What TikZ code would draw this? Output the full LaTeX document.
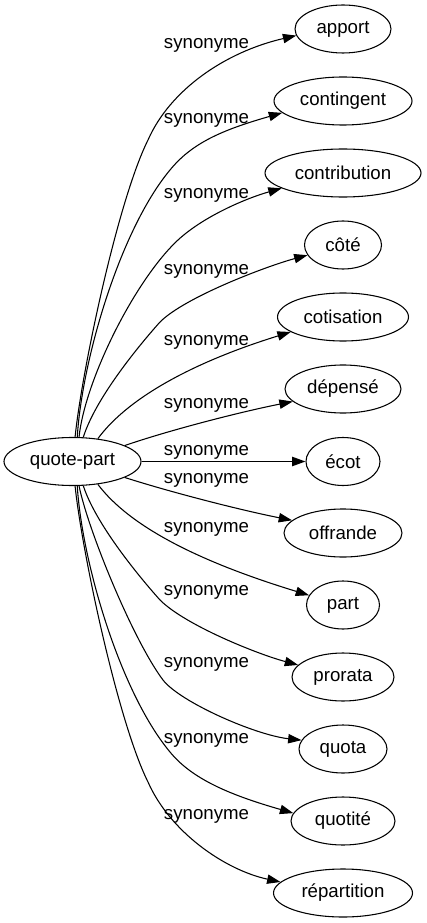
\documentclass[tikz,border=0pt]{standalone}
\usepackage{fontspec}
\setmainfont{Liberation Sans}
\usetikzlibrary{arrows.meta,shapes.geometric}
\begin{document}
\begin{tikzpicture}[x=0.75pt,y=-0.75pt,
  word/.style={ellipse,draw,line width=0.8pt,inner sep=0pt,minimum height=36pt,font=\fontsize{14}{16}\selectfont},
  lab/.style={font=\fontsize{14}{16}\selectfont,inner sep=0pt},
  syn/.style={draw,line width=0.8pt,-{Triangle[length=10pt,width=7pt]}}]
\useasboundingbox (0,0) rectangle (426,923);
\node[word,minimum width=102.75pt] (q) at (72.5,461.5) {quote-part};
\node[word,minimum width=72pt] (apport) at (343,29) {apport};
\node[word,minimum width=103.5pt] (contingent) at (343,101) {contingent};
\node[word,minimum width=117pt] (contribution) at (343,173) {contribution};
\node[word,minimum width=57.75pt] (cote) at (343,245) {côté};
\node[word,minimum width=98.25pt] (cotisation) at (343,317) {cotisation};
\node[word,minimum width=87pt] (depense) at (343,389) {dépensé};
\node[word,minimum width=55.5pt] (ecot) at (343,461.5) {écot};
\node[word,minimum width=88.5pt] (offrande) at (343,533) {offrande};
\node[word,minimum width=54.75pt] (part) at (343,605) {part};
\node[word,minimum width=76.5pt] (prorata) at (343,677) {prorata};
\node[word,minimum width=66pt] (quota) at (343,749) {quota};
\node[word,minimum width=78pt] (quotite) at (343,821) {quotité};
\node[word,minimum width=104.25pt] (repartition) at (343,893) {répartition};

\draw[syn] (q.84) .. controls (82,370) and (118,200) .. (148,140) .. controls (170,90) and (225,52) .. (apport.188);
\draw[syn] (q.79) .. controls (82,360) and (120,230) .. (170,170) .. controls (192,143) and (222,130) .. (contingent.191);
\draw[syn] (q.75) .. controls (85,380) and (135,280) .. (178,240) .. controls (204,216) and (247,198) .. (contribution.194);
\draw[syn] (q.66) .. controls (95,400) and (135,350) .. (160,322) .. controls (185,297) and (267,266) .. (cote.196);
\draw[syn] (q.42) .. controls (130,395) and (200,360) .. (cotisation.196);
\draw[syn] (q.17) .. controls (170,430) and (240,412) .. (depense.194);
\draw[syn] (q) -- (ecot);
\draw[syn] (q.-17) .. controls (170,492) and (240,510) .. (offrande.166);
\draw[syn] (q.-42) .. controls (130,527) and (200,562) .. (part.164);
\draw[syn] (q.-66) .. controls (95,522) and (135,572) .. (160,600) .. controls (185,625) and (257,654) .. (prorata.165);
\draw[syn] (q.-75) .. controls (88,530) and (133,640) .. (163,680) .. controls (180,702) and (255,735) .. (quota.168);
\draw[syn] (q.-79) .. controls (82,562) and (120,692) .. (170,752) .. controls (192,779) and (230,795) .. (quotite.171);
\draw[syn] (q.-84) .. controls (82,552) and (118,722) .. (148,782) .. controls (170,832) and (225,870) .. (repartition.170);

\node[lab] (l1) at (206.5,45) {synonyme};
\node[lab] (l2) at (206.5,120) {synonyme};
\node[lab] (l3) at (206.5,195) {synonyme};
\node[lab] (l4) at (206.5,271) {synonyme};
\node[lab] (l5) at (206.5,342) {synonyme};
\node[lab] (l6) at (206.5,405) {synonyme};
\node[lab] (l7) at (206.5,452) {synonyme};
\node[lab] (l8) at (206.5,480) {synonyme};
\node[lab] (l9) at (206.5,529) {synonyme};
\node[lab] (l10) at (206.5,592) {synonyme};
\node[lab] (l11) at (206.5,664) {synonyme};
\node[lab] (l12) at (206.5,740) {synonyme};
\node[lab] (l13) at (206.5,816) {synonyme};
\end{tikzpicture}
\end{document}
